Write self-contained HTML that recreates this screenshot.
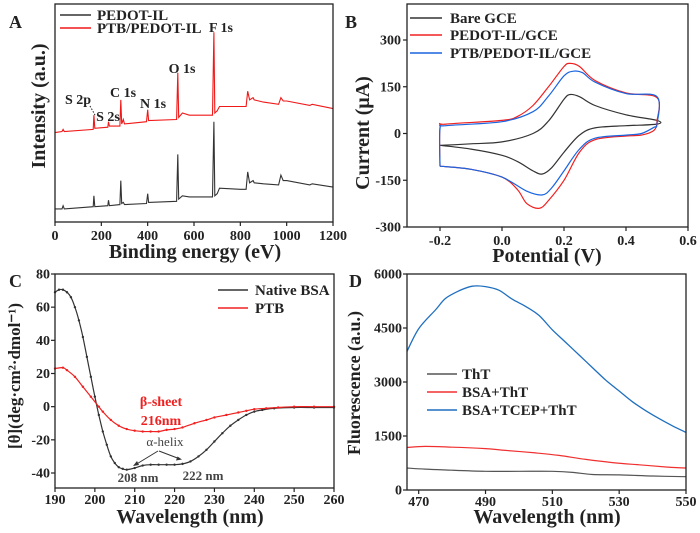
<!DOCTYPE html>
<html><head><meta charset="utf-8">
<style>
html,body{margin:0;padding:0;background:#fff;}
svg{display:block;font-family:"Liberation Serif",serif;font-weight:bold;}
</style></head>
<body>
<svg id="fig" width="700" height="533" viewBox="0 0 700 533" xmlns="http://www.w3.org/2000/svg"></svg>
<script>
// ---- Panel A (XPS) data ----
const xpsEnergy = [0,30,35,40,165,168,172,228,231,235,280,284,288,295,300,395,400,404,525,530,534,550,580,680,686,690,700,710,800,825,832,840,855,860,900,965,975,985,1000,1100,1110,1200];
const xpsPedot  = [6,6,7.5,6,7,12,7,7.5,10,7.5,8,19,8.5,9,8,8.5,13,9,9.5,31,10.5,12,11.5,11.5,46,12,13,15.5,15,15,23,18,19,18,17.5,17,21.5,19,19,17,17.5,16];
const xpsPtb    = [41,41.5,42.5,41.5,42.5,49,43,43.5,46,44,44,56,45,47,45,46,51.5,46.5,47,68.5,48,50,49,49,87,50,51,53,53,53,60,56,57,56,55,54,57,55.5,55.5,53.5,54,52];
const xpsTicks = [0,200,400,600,800,1000,1200];
// ---- Panel B (CV) data ----
const cvBareE = [-0.2,-0.1,0.0,0.1,0.15,0.2,0.22,0.25,0.3,0.4,0.5,0.5,0.4,0.3,0.25,0.2,0.16,0.13,0.1,0.05,0.0,-0.1,-0.2];
const cvBareI = [-38,-33,-27,0,40,110,125,118,90,60,42,30,25,18,-5,-60,-110,-130,-120,-90,-70,-50,-38];
const cvPedotE = [-0.2,-0.2,-0.18,0.0,0.05,0.1,0.15,0.2,0.22,0.25,0.3,0.4,0.5,0.5,0.49,0.45,0.4,0.3,0.25,0.2,0.15,0.12,0.08,0.05,0.0,-0.1,-0.2];
const cvPedotI = [-105,20,30,42,55,90,150,215,225,215,170,130,115,40,10,-5,-8,-20,-60,-150,-215,-240,-225,-180,-140,-115,-105];
const cvPtbE = [-0.2,-0.2,-0.18,0.0,0.1,0.15,0.2,0.23,0.26,0.3,0.4,0.5,0.5,0.49,0.45,0.4,0.3,0.25,0.2,0.16,0.13,0.08,0.0,-0.1,-0.2];
const cvPtbI = [-105,15,25,38,70,120,185,200,195,165,128,118,30,20,0,-5,-15,-50,-120,-175,-197,-185,-140,-115,-105];
const cvXTicks = [-0.2,0.0,0.2,0.4,0.6];
const cvYTicks = [-300,-150,0,150,300];
// ---- Panel C (CD) data ----
const cdBsaW = [190,191,192,193,194,195,196,197,198,199,200,201,202,203,204,205,206,207,208,210,212,214,216,218,220,222,224,226,228,230,232,234,236,238,240,242,245,250,255,260];
const cdBsaV = [69,70.5,70.5,69,66,60,52,42,30,18,6,-5,-15,-23,-30,-34,-36.5,-37.5,-38,-37,-35.5,-35,-35,-35,-35,-34.5,-33,-30,-26,-21,-16,-11.5,-8,-5,-3,-2,-1,-0.5,-0.5,-0.5];
const cdPtbW = [190,192,193,195,197,199,201,202,204,206,208,210,212,214,216,218,220,222,225,228,230,233,236,238,240,243,246,250,255,260];
const cdPtbV = [23,23.5,22,18,12,6,0,-3,-8,-11.5,-13.5,-14.5,-15,-15,-15,-14,-13.5,-12.5,-10,-8,-6.5,-5,-3.5,-2.5,-1.5,-1,-0.5,0,0,0];
const cdXTicks = [190,200,210,220,230,240,250,260];
const cdYTicks = [-40,-20,0,20,40,60,80];
// ---- Panel D (ThT fluorescence) data ----
const flBlueW = [466.5,470,475,478,482,486,490,494,498,502,506,510,514,518,522,526,530,534,538,542,546,550];
const flBlueV = [3850,4480,5000,5320,5530,5660,5650,5550,5300,5100,4850,4450,4100,3750,3400,3050,2750,2450,2200,1980,1780,1600];
const flRedW = [466.5,472,480,490,496,505,512,520,528,536,544,550];
const flRedV = [1180,1210,1190,1150,1100,1030,960,850,760,700,640,610];
const flBlackW = [466.5,472,480,490,500,510,516,522,530,540,550];
const flBlackV = [610,580,550,520,520,520,490,430,420,390,370];
const flXTicks = [470,490,510,530,550];
const flYTicks = [0,1500,3000,4500,6000];

const NS="http://www.w3.org/2000/svg";
const svg=document.getElementById('fig');
function el(tag,attrs,parent){const e=document.createElementNS(NS,tag);for(const k in attrs)e.setAttribute(k,attrs[k]);(parent||svg).appendChild(e);return e;}
function txt(s,x,y,size,anchor,parent,fill){const t=el('text',{x:x,y:y,'font-size':size,'text-anchor':anchor||'start',fill:fill||'#222'},parent);t.textContent=s;return t;}
function scale(d0,d1,r0,r1){return v=>r0+(v-d0)/(d1-d0)*(r1-r0);}
function path(xs,ys,sx,sy){return xs.map((v,i)=>(i?'L':'M')+sx(v).toFixed(1)+','+sy(ys[i]).toFixed(1)).join('');}
function smooth(xs,ys,sx,sy){const p=xs.map((v,i)=>[sx(v),sy(ys[i])]);let d='M'+p[0][0].toFixed(1)+','+p[0][1].toFixed(1);
for(let i=0;i<p.length-1;i++){const p0=p[i-1]||p[i],p1=p[i],p2=p[i+1],p3=p[i+2]||p2;const t=1/6;
const c1=[p1[0]+(p2[0]-p0[0])*t,p1[1]+(p2[1]-p0[1])*t],c2=[p2[0]-(p3[0]-p1[0])*t,p2[1]-(p3[1]-p1[1])*t];
d+='C'+c1.map(v=>v.toFixed(1)).join(',')+' '+c2.map(v=>v.toFixed(1)).join(',')+' '+p2[0].toFixed(1)+','+p2[1].toFixed(1);}return d;}
function frame(g,L,T,R,B){const r=el('rect',{x:L,y:T,width:R-L,height:B-T,fill:'none',stroke:'#222','stroke-width':1.3},g);}
function xticks(g,ticks,sx,B,fmt,ly,size){ticks.forEach(t=>{const x=sx(t);el('line',{x1:x,x2:x,y1:B,y2:B+4,stroke:'#222','stroke-width':1.2},g);const l=txt(fmt(t),x,ly,size,'middle',g);});}
function yticks(g,ticks,sy,L,fmt,lx,size){ticks.forEach(t=>{const y=sy(t);el('line',{x1:L-4,x2:L,y1:y,y2:y,stroke:'#222','stroke-width':1.2},g);const l=txt(fmt(t),lx,y+4.5,size,'end',g);});}
function rotTitle(g,s,x,y,size){const t=txt(s,x,y,size,'middle',g);t.setAttribute('transform','rotate(-90 '+x+' '+y+')');return t;}
function legendLine(g,x1,x2,y,color,label,tx,size){const l=el('line',{x1:x1,x2:x2,y1:y,y2:y,stroke:color,'stroke-width':1.4},g);const t=txt(label,tx,y+5,size,'start',g);}

// ===== Panel A =====
{const g=el('g',{});
const L=55,R=333,T=4,B=222;const sx=scale(0,1200,L,R),sy=scale(0,100,B,T);
const p1=el('path',{d:path(xpsEnergy,xpsPedot,sx,sy),fill:'none',stroke:'#333','stroke-width':1.1},g);
const p2=el('path',{d:path(xpsEnergy,xpsPtb,sx,sy),fill:'none',stroke:'#f01818','stroke-width':1.1},g);
frame(g,L,T,R,B);xticks(g,xpsTicks,sx,B,v=>String(v),240,14);
const xt=txt('Binding energy (eV)',195,258,20,'middle',g);
const yt=rotTitle(g,'Intensity (a.u.)',45,106,20);
const pl=txt('A',9,28,18,'start',g);
legendLine(g,60,91,15,'#333','PEDOT-IL',97,15);legendLine(g,60,91,28,'#f01818','PTB/PEDOT-IL',97,15);
[['F 1s',221,32],['O 1s',182,73],['C 1s',123,97],['N 1s',153,108],['S 2p',78,104],['S 2s',108,121]].forEach(a=>{const t=txt(a[0],a[1],a[2],14,'middle',g);});
el('line',{x1:90,y1:106,x2:95,y2:115,stroke:'#222','stroke-width':1,'stroke-dasharray':'1.5,1.5'},g);
}
// ===== Panel B =====
{const g=el('g',{});
const L=407,R=688,T=4,B=227;const sx=scale(0,0.6,502,688),sy=scale(-300,300,B,40);
const c1=el('path',{d:smooth(cvBareE,cvBareI,sx,sy),fill:'none',stroke:'#333','stroke-width':1.2},g);
const c2=el('path',{d:smooth(cvPedotE,cvPedotI,sx,sy),fill:'none',stroke:'#f02020','stroke-width':1.2},g);
const c3=el('path',{d:smooth(cvPtbE,cvPtbI,sx,sy),fill:'none',stroke:'#1a64e0','stroke-width':1.2},g);
frame(g,L,T,R,B);xticks(g,cvXTicks,sx,B,v=>v.toFixed(1),245,14);yticks(g,cvYTicks,sy,L,v=>String(v),401,14);
const xt=txt('Potential (V)',547,262,20,'middle',g);
const yt=rotTitle(g,'Current (\u03bcA)',369,133,20);
const pl=txt('B',345,28,18,'start',g);
legendLine(g,410,442,18,'#333','Bare GCE',450,15);legendLine(g,410,442,35,'#f02020','PEDOT-IL/GCE',450,15);legendLine(g,410,442,53,'#1a64e0','PTB/PEDOT-IL/GCE',450,15);
}
// ===== Panel C =====
{const g=el('g',{});
const L=55,R=334,T=274,B=488;const sx=scale(190,260,L,R),sy=scale(-40,80,473,274);
const s1=el('path',{d:smooth(cdBsaW,cdBsaV,sx,sy),fill:'none',stroke:'#333','stroke-width':1.2},g);
cdBsaW.forEach((w,i)=>{const c=el('circle',{cx:sx(w),cy:sy(cdBsaV[i]),r:1.2,fill:'#333'},g);});
const s2=el('path',{d:smooth(cdPtbW,cdPtbV,sx,sy),fill:'none',stroke:'#f02020','stroke-width':1.2},g);
cdPtbW.forEach((w,i)=>{const c=el('circle',{cx:sx(w),cy:sy(cdPtbV[i]),r:1.2,fill:'#f02020'},g);});
frame(g,L,T,R,B);xticks(g,cdXTicks,sx,B,v=>String(v),504,14);yticks(g,cdYTicks,sy,L,v=>String(v),50,14);
const xt=txt('Wavelength (nm)',190,523,20,'middle',g);
const yt=rotTitle(g,'[\u03b8](deg\u00b7cm\u00b2\u00b7dmol\u207b\u00b9)',20,376,17);
const pl=txt('C',9,287,18,'start',g);
legendLine(g,218,248,290,'#333','Native BSA',255,15);legendLine(g,218,248,308,'#f02020','PTB',255,15);
const b1=txt('\u03b2-sheet',161,406,14,'middle',g,'#f02020');
const b2=txt('216nm',161,425,14,'middle',g,'#f02020');
const a1=txt('\u03b1-helix',165,446,13,'middle',g,'#444');a1.setAttribute('font-weight','normal');
el('line',{x1:158,y1:451,x2:135,y2:465,stroke:'#333','stroke-width':1},g);el('path',{d:'M133,466 l6,-1 l-2,-4 z',fill:'#333'},g);
el('line',{x1:159,y1:451,x2:180,y2:459,stroke:'#333','stroke-width':1},g);el('path',{d:'M182,459.5 l-6,1 l1.5,-4 z',fill:'#333'},g);
const n1=txt('208 nm',138,482,13,'middle',g,'#444');
const n2=txt('222 nm',203,480,13,'middle',g,'#444');
}
// ===== Panel D =====
{const g=el('g',{});
const L=407,R=686,T=274,B=490;const sx=scale(466.5,550,L,R),sy=scale(0,6000,B,T);
const f1=el('path',{d:smooth(flBlackW,flBlackV,sx,sy),fill:'none',stroke:'#555','stroke-width':1.2},g);
const f2=el('path',{d:smooth(flRedW,flRedV,sx,sy),fill:'none',stroke:'#f03030','stroke-width':1.2},g);
const f3=el('path',{d:smooth(flBlueW,flBlueV,sx,sy),fill:'none',stroke:'#1f6fc0','stroke-width':1.3},g);
frame(g,L,T,R,B);xticks(g,flXTicks,sx,B,v=>String(v),506,14);yticks(g,flYTicks,sy,L,v=>String(v),402,14);
const xt=txt('Wavelength (nm)',547,523,20,'middle',g);
const yt=rotTitle(g,'Fluorescence (a.u.)',360,383,18);
const pl=txt('D',349,287,18,'start',g);
legendLine(g,427,457,374,'#555','ThT',462,15);legendLine(g,427,457,392,'#f03030','BSA+ThT',462,15);legendLine(g,427,457,410,'#1f6fc0','BSA+TCEP+ThT',462,15);
}
</script>
</body></html>
